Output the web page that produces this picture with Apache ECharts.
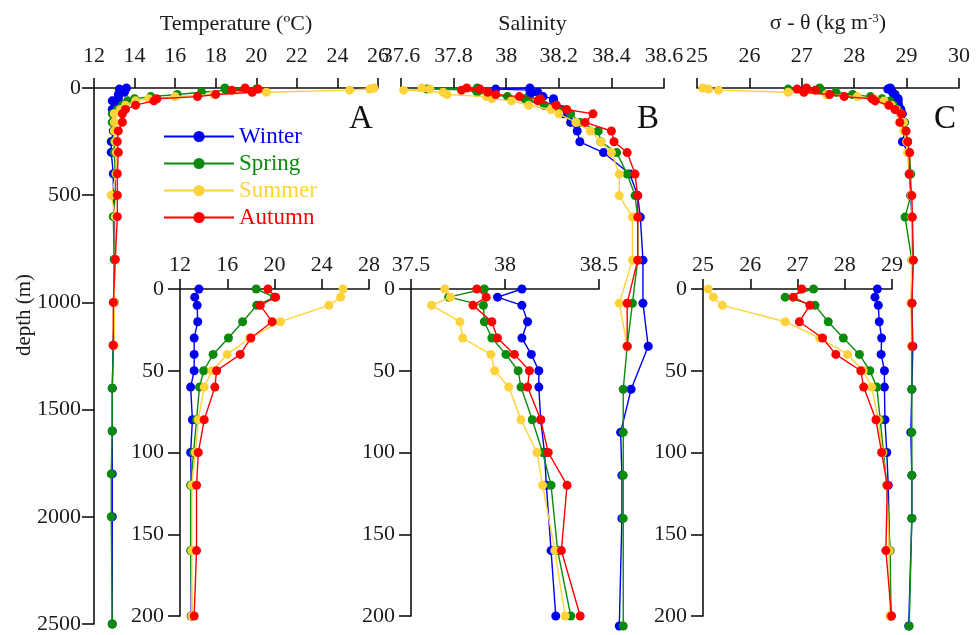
<!DOCTYPE html>
<html>
<head>
<meta charset="utf-8">
<script src="https://cdn.jsdelivr.net/npm/echarts@6/dist/echarts.min.js"></script>
<style>
  html, body { margin: 0; padding: 0; background: #fff; }
  #chart { width: 978px; height: 635px; }
</style>
</head>
<body>
<div id="chart"></div>
<script>
// Sampling depths (m); Summer and Autumn profiles stop at 1200 m
const depths = [0, 5, 10, 20, 30, 40, 50, 60, 80, 100, 120, 160, 200, 250, 300, 400, 500, 600, 800, 1000, 1200, 1400, 1600, 1800, 2000, 2500];

// Temperature (ºC)
const tempWinter = [13.6, 13.25, 13.45, 13.5, 13.2, 13.2, 13.2, 12.9, 13.05, 12.9, 12.95, 12.95, 12.95, 12.85, 12.85, 12.95, 12.95, 13.0, 13.0, 13.0, 12.95, 12.9, 12.9, 12.9, 12.9, 12.9];
const tempSpring = [18.45, 20.0, 18.5, 17.3, 16.1, 14.8, 14.0, 13.65, 13.4, 13.15, 12.9, 12.9, 13.0, 13.0, 13.0, 13.05, 13.05, 12.95, 13.0, 13.0, 12.95, 12.9, 12.9, 12.85, 12.85, 12.9];
const tempSummer = [25.8, 25.6, 24.6, 20.5, 17.9, 16.0, 14.7, 14.05, 13.55, 13.3, 13.0, 13.0, 13.0, 13.05, 13.1, 13.1, 12.85, 13.05, 13.05, 13.0, 13.0];
const tempAutumn = [19.45, 20.1, 18.8, 19.8, 18.0, 17.1, 15.1, 14.95, 14.05, 13.55, 13.4, 13.4, 13.2, 13.15, 13.2, 13.15, 13.15, 13.15, 13.05, 12.95, 12.95];

// Salinity
const salWinter = [38.09, 37.96, 38.09, 38.12, 38.09, 38.14, 38.18, 38.18, 38.19, 38.21, 38.22, 38.245, 38.27, 38.28, 38.37, 38.47, 38.50, 38.51, 38.52, 38.52, 38.54, 38.475, 38.435, 38.44, 38.44, 38.43];
const salSpring = [37.89, 37.70, 37.885, 37.89, 37.93, 38.005, 38.07, 38.085, 38.145, 38.20, 38.245, 38.28, 38.35, 38.36, 38.42, 38.46, 38.49, 38.50, 38.50, 38.48, 38.46, 38.445, 38.445, 38.445, 38.445, 38.445];
const salSummer = [37.68, 37.71, 37.61, 37.76, 37.775, 37.925, 37.945, 38.02, 38.085, 38.17, 38.20, 38.265, 38.32, 38.36, 38.40, 38.43, 38.43, 38.48, 38.48, 38.43, 38.46];
const salAutumn = [37.85, 37.90, 37.83, 37.93, 37.96, 38.05, 38.13, 38.12, 38.19, 38.23, 38.33, 38.30, 38.40, 38.41, 38.46, 38.49, 38.50, 38.50, 38.50, 38.46, 38.46];

// Potential density anomaly σ-θ (kg m-3)
const sigWinter = [28.69, 28.64, 28.71, 28.73, 28.78, 28.77, 28.84, 28.84, 28.85, 28.89, 28.92, 28.95, 28.97, 28.92, 29.03, 29.05, 29.08, 29.1, 29.12, 29.1, 29.12, 29.1, 29.08, 29.1, 29.1, 29.04];
const sigSpring = [27.34, 26.74, 27.37, 27.65, 27.97, 28.31, 28.53, 28.68, 28.75, 28.82, 28.89, 28.96, 28.98, 29.02, 29.05, 29.08, 29.08, 28.97, 29.1, 29.1, 29.1, 29.1, 29.1, 29.1, 29.1, 29.05];
const sigSummer = [25.11, 25.22, 25.41, 26.74, 27.47, 28.06, 28.39, 28.57, 28.71, 28.8, 28.89, 28.94, 28.95, 29.0, 29.02, 29.05, 29.09, 29.1, 29.1, 29.08, 29.1];
const sigAutumn = [27.09, 26.91, 27.26, 27.04, 27.53, 27.81, 28.34, 28.40, 28.66, 28.78, 28.9, 28.87, 28.99, 29.02, 29.06, 29.05, 29.1, 29.11, 29.13, 29.1, 29.11];

// Axis tick settings [min, max, interval]
const tempTicks = { main: [12, 26, 2], inset: [12, 28, 4] };
const salTicks = { main: [37.6, 38.6, 0.2], inset: [37.5, 38.5, 0.5] };
const sigTicks = { main: [25, 30, 1], inset: [25, 29, 1] };
const depthTicks = { main: [0, 2500, 500], inset: [0, 200, 50] };

const seasons = ['Winter', 'Spring', 'Summer', 'Autumn'];
const colors = { Winter: '#0000F0', Spring: '#0B8A0B', Summer: '#FFD23A', Autumn: '#FF0000' };
const panels = [
  { vars: [tempWinter, tempSpring, tempSummer, tempAutumn], ticks: tempTicks },
  { vars: [salWinter, salSpring, salSummer, salAutumn], ticks: salTicks },
  { vars: [sigWinter, sigSpring, sigSummer, sigAutumn], ticks: sigTicks }
];

const FONT = 'Liberation Serif';
const TXT = '#1b1b1b';
const FS = 22;

// Grid boxes: three full-depth panels and three upper-200 m panels
const grids = [
  { left: 94, top: 88, width: 284, height: 538 },
  { left: 401, top: 88, width: 263, height: 538 },
  { left: 697, top: 88, width: 262, height: 538 },
  { left: 180, top: 289, width: 189, height: 327 },
  { left: 411, top: 289, width: 188, height: 327 },
  { left: 703, top: 289, width: 189, height: 327 }
];

const axisLine = { show: true, lineStyle: { color: '#111', width: 1.6 } };
const titles = ['Temperature (ºC)', 'Salinity', 'σ - θ (kg m{sup|-3})'];

const xAxes = [];
const yAxes = [];
for (let g = 0; g < 6; g++) {
  const inset = g >= 3;
  const p = panels[g % 3];
  const t = inset ? p.ticks.inset : p.ticks.main;
  const ax = {
    type: 'value', gridIndex: g, position: 'top',
    min: t[0], max: t[1], interval: t[2],
    axisLine: axisLine,
    axisTick: { show: true, length: 10, lineStyle: { color: '#111', width: 1.6 } },
    splitLine: { show: false },
    axisLabel: { show: true, fontFamily: FONT, fontSize: FS, color: TXT, margin: inset ? 13 : 21, hideOverlap: false, showMinLabel: true, showMaxLabel: true }
  };
  if (!inset) {
    ax.name = titles[g];
    ax.nameLocation = 'middle';
    ax.nameGap = 53;
    ax.nameTextStyle = {
      fontFamily: FONT, fontSize: FS, color: TXT,
      rich: { sup: { fontFamily: FONT, fontSize: 13, color: TXT, verticalAlign: 'top', padding: [0, 0, 10, 0] } }
    };
  }
  xAxes.push(ax);

  const d = inset ? depthTicks.inset : depthTicks.main;
  yAxes.push({
    type: 'value', gridIndex: g, inverse: true,
    min: d[0], max: d[1], interval: d[2],
    show: inset || g === 0,
    axisLine: axisLine,
    axisTick: { show: true, length: 12, lineStyle: { color: '#111', width: 1.6 } },
    splitLine: { show: false },
    axisLabel: { fontFamily: FONT, fontSize: FS, color: TXT, margin: inset ? 16 : 13, formatter: v => String(v) }
  });
}

const series = [];
for (let g = 0; g < 6; g++) {
  const inset = g >= 3;
  const p = panels[g % 3];
  seasons.forEach((name, k) => {
    const vals = p.vars[k];
    const pts = [];
    vals.forEach((v, i) => {
      if (inset && depths[i] > 200) return;
      pts.push([v, depths[i]]);
    });
    series.push({
      name: name, type: 'line', xAxisIndex: g, yAxisIndex: g,
      data: pts, symbol: 'circle', symbolSize: 9,
      itemStyle: { color: colors[name] },
      lineStyle: { color: colors[name], width: 1.4 },
      clip: false, z: 2 + k
    });
  });
}

const chart = echarts.init(document.getElementById('chart'), null, { renderer: 'canvas' });
chart.setOption({
  animation: false,
  backgroundColor: '#fff',
  grid: grids,
  xAxis: xAxes,
  yAxis: yAxes,
  legend: {
    orient: 'vertical', left: 163, top: 125, padding: 0,
    itemWidth: 70, itemHeight: 14, itemGap: 4,
    data: seasons.map(s => ({ name: s, textStyle: { color: colors[s], fontFamily: FONT, fontSize: 23 } })),
    textStyle: { fontFamily: FONT, fontSize: 23 },
    selectedMode: false
  },
  graphic: [
    { type: 'text', left: 349, top: 103, style: { text: 'A', fontFamily: FONT, fontSize: 33, fill: '#111' } },
    { type: 'text', left: 637, top: 103, style: { text: 'B', fontFamily: FONT, fontSize: 33, fill: '#111' } },
    { type: 'text', left: 934, top: 103, style: { text: 'C', fontFamily: FONT, fontSize: 33, fill: '#111' } },
    { type: 'text', x: 24, y: 315, rotation: Math.PI / 2,
      style: { text: 'depth (m)', fontFamily: FONT, fontSize: 21, fill: TXT, align: 'center', verticalAlign: 'middle' } }
  ],
  series: series
});
</script>
</body>
</html>
